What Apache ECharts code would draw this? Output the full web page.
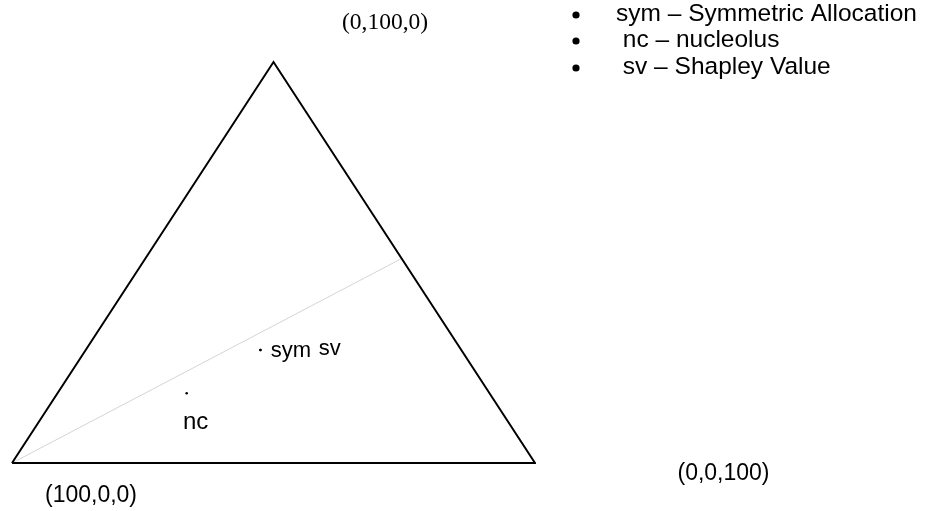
<!DOCTYPE html>
<html>
<head>
<meta charset="utf-8">
<script src="https://cdn.jsdelivr.net/npm/echarts@6/dist/echarts.min.js"></script>
<style>
html, body { margin: 0; padding: 0; background: #fff; }
#main { width: 926px; height: 511px; }
</style>
</head>
<body>
<div id="main"></div>
<script>
// ternary corners (a, b, c)
var vertexNames = ['(100,0,0)', '(0,100,0)', '(0,0,100)'];
var vertexA = [100, 0, 0];
var vertexB = [0, 100, 0];
var vertexC = [0, 0, 100];

// allocations
var pointNames = ['sym', 'nc', 'sv'];
var pointA = [38.4, 57.9, 38.4];
var pointB = [28.2, 17.4, 28.2];
var pointC = [33.4, 24.7, 33.4];

// light grey guide line, from (100,0,0) to the right edge
var guideA = [100, 0];
var guideB = [0, 51];
var guideC = [0, 49];

var legendItems = ['sym – Symmetric Allocation', ' nc – nucleolus', ' sv – Shapley Value'];

function toXY(a, b, c) {
    var s = a + b + c;
    b = b * 100 / s;
    c = c * 100 / s;
    return [c + b / 2, b];
}

var sansFont = '"Liberation Sans", Arial, sans-serif';
var serifFont = '"Liberation Serif", "Times New Roman", serif';

var triangle = [];
for (var i = 0; i < vertexA.length; i++) {
    triangle.push(toXY(vertexA[i], vertexB[i], vertexC[i]));
}
triangle.push(triangle[0]);

var guide = [];
for (var i = 0; i < guideA.length; i++) {
    guide.push(toXY(guideA[i], guideB[i], guideC[i]));
}

var vertexLabelOffset = [[79, 33], [111.5, -38.7], [188.5, 11]];
var vertexData = [];
for (var i = 0; i < vertexNames.length; i++) {
    vertexData.push({
        name: vertexNames[i],
        value: toXY(vertexA[i], vertexB[i], vertexC[i]),
        label: {
            offset: vertexLabelOffset[i],
            fontFamily: i == 1 ? serifFont : sansFont,
            fontSize: i == 1 ? 23.5 : 23
        }
    });
}

var pointLabelOffset = [[9, 1], [-5, 29], [57, -1]];
var pointFontSize = [22, 24, 22];
var pointData = [];
for (var i = 0; i < pointNames.length; i++) {
    pointData.push({
        name: pointNames[i],
        value: toXY(pointA[i], pointB[i], pointC[i]),
        label: {
            offset: pointLabelOffset[i],
            fontSize: pointFontSize[i]
        }
    });
}

var graphics = [];
var rowY = [15, 41, 68];
for (var i = 0; i < legendItems.length; i++) {
    graphics.push({
        type: 'circle',
        shape: { cx: 576, cy: rowY[i], r: 3.6 },
        style: { fill: '#000' }
    });
    graphics.push({
        type: 'text',
        x: 616,
        y: rowY[i] - 1,
        style: {
            text: legendItems[i],
            font: '24.5px ' + sansFont,
            fill: '#000',
            textVerticalAlign: 'middle'
        }
    });
}

var chart = echarts.init(document.getElementById('main'));
var option = {
    animation: false,
    backgroundColor: '#fff',
    grid: { left: 12, right: 391, top: 62, bottom: 48 },
    xAxis: { type: 'value', min: 0, max: 100, show: false },
    yAxis: { type: 'value', min: 0, max: 100, show: false },
    graphic: graphics,
    series: [
        {
            type: 'line',
            data: guide,
            symbol: 'none',
            silent: true,
            lineStyle: { color: '#d4d4d4', width: 1 }
        },
        {
            type: 'line',
            data: triangle,
            symbol: 'none',
            silent: true,
            clip: false,
            lineStyle: { color: '#000', width: 2, join: 'miter' }
        },
        {
            type: 'scatter',
            data: vertexData,
            symbolSize: 0,
            itemStyle: { opacity: 1 },
            label: {
                show: true,
                position: 'inside',
                color: '#000',
                formatter: '{b}'
            }
        },
        {
            type: 'scatter',
            data: pointData,
            symbolSize: 2.5,
            itemStyle: { color: '#000', opacity: 1 },
            label: {
                show: true,
                position: 'right',
                distance: 0,
                color: '#000',
                fontFamily: sansFont,
                formatter: '{b}'
            }
        }
    ]
};
chart.setOption(option);
</script>
</body>
</html>
